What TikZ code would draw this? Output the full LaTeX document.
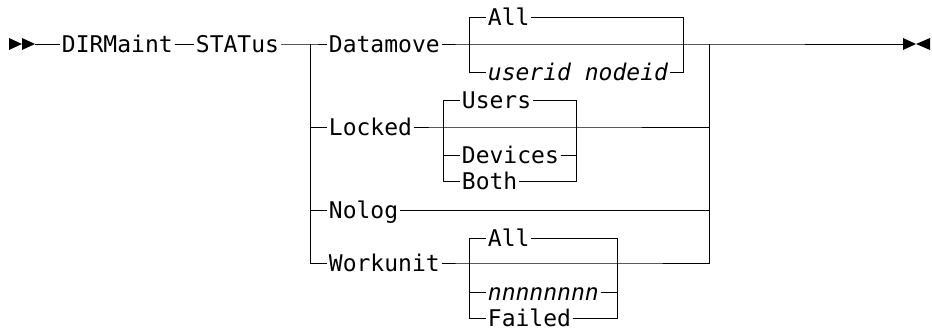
\documentclass[tikz,border=0pt]{standalone}
\usepackage{fontspec}
\setmonofont{DejaVu Sans Mono}

\begin{document}
\begin{tikzpicture}[x=1pt, y=-1pt, line width=0.9pt]
\tikzset{kw/.style={anchor=west, inner xsep=1.5pt, inner ysep=0pt, text height=17pt, text depth=0pt, font=\ttfamily\fontsize{23}{27}\selectfont}}
\tikzset{var/.style={kw, font=\ttfamily\itshape\fontsize{23}{27}\selectfont}}
\useasboundingbox (0,0) rectangle (932,331);
% main line
\node[kw] (dirm) at (60,44) {DIRMaint};
\node[kw] (status) at (194,44) {STATus};
\coordinate (start) at (35,44);
\coordinate (fork) at (310,44);
\coordinate (join) at (709,44);
\coordinate (stop) at (903,44);
% branches
\node[kw] (datamove) at (327,44) {Datamove};
\node[kw] (locked) at (327,127) {Locked};
\node[kw] (nolog) at (327,210) {Nolog};
\node[kw] (workunit) at (327,263) {Workunit};
% Datamove choices
\coordinate (dmL) at (469,44);
\coordinate (dmR) at (683,44);
\node[kw] (dmall) at (486,17) {All};
\node[var] (userid) at (486,72) {userid nodeid};
% Locked choices
\coordinate (lkL) at (443,127);
\coordinate (lkR) at (576,127);
\node[kw] (users) at (460,100) {Users};
\node[kw] (devices) at (460,155) {Devices};
\node[kw] (both) at (460,181) {Both};
% Workunit choices
\coordinate (wuL) at (469,263);
\coordinate (wuR) at (617,263);
\node[kw] (wuall) at (486,238) {All};
\node[var] (wunum) at (486,292) {nnnnnnnn};
\node[kw] (failed) at (486,318) {Failed};
% end marks
\fill (9,38) -- (22,44) -- (9,50) -- cycle;
\fill (22,38) -- (35,44) -- (22,50) -- cycle;
\fill (903,38) -- (916,44) -- (903,50) -- cycle;
\fill (930,38) -- (916,44) -- (930,50) -- cycle;
% lines
\draw (start) -- (dirm);
\draw (dirm) -- (status);
\draw (status) -- (fork) -- (datamove);
\draw (datamove) -- (dmL) -- (dmR) -- (join) -- (stop);
\draw (dmL) |- (dmall);
\draw (dmall) -| (dmR);
\draw (dmL) |- (userid);
\draw (userid) -| (dmR);
\draw (fork) |- (locked);
\draw (locked) -- (lkL) -- (lkR) -- (lkR -| join);
\draw (lkL) |- (users);
\draw (users) -| (lkR);
\draw (lkL) |- (devices);
\draw (devices) -| (lkR);
\draw (lkL) |- (both);
\draw (both) -| (lkR);
\draw (fork) |- (nolog);
\draw (nolog) -- (nolog -| join);
\draw (fork) |- (workunit);
\draw (workunit) -- (wuL) -- (wuR) -- (wuR -| join) -- (join);
\draw (wuL) |- (wuall);
\draw (wuall) -| (wuR);
\draw (wuL) |- (wunum);
\draw (wunum) -| (wuR);
\draw (wuL) |- (failed);
\draw (failed) -| (wuR);
\end{tikzpicture}
\end{document}
